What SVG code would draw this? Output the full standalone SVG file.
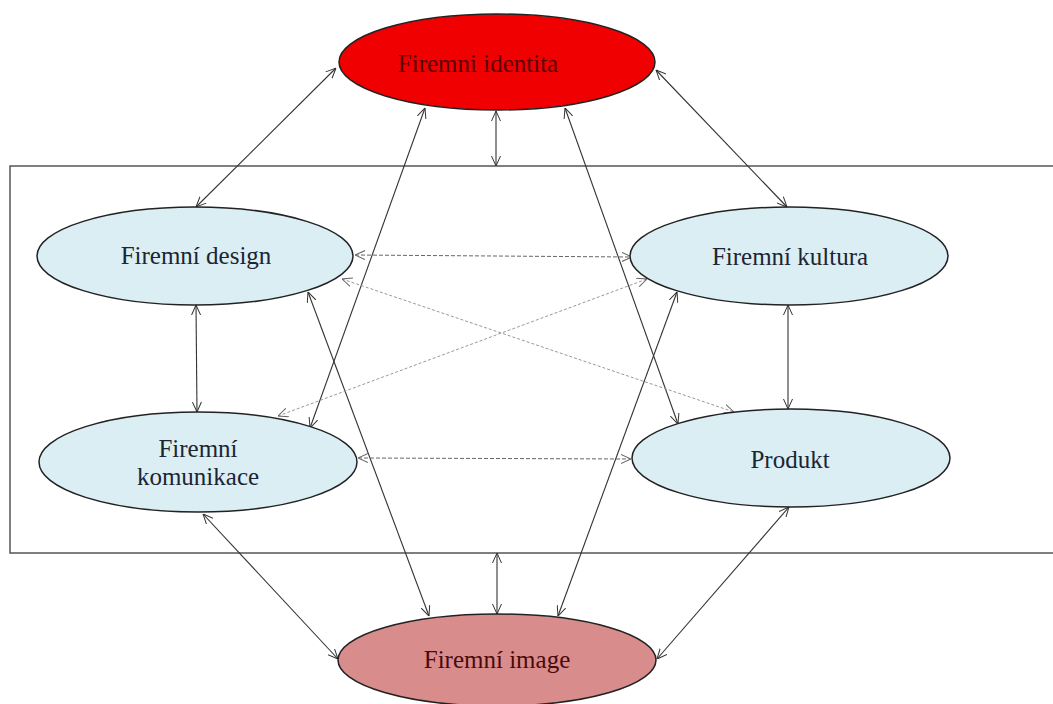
<svg xmlns="http://www.w3.org/2000/svg" width="1053" height="704" viewBox="0 0 1053 704">
<defs>
<marker id="ah" viewBox="0 0 10 10" refX="10" refY="5" markerWidth="10" markerHeight="10" markerUnits="userSpaceOnUse" orient="auto-start-reverse">
<path d="M0,0.5 L10,5 L0,9.5" fill="none" stroke="#333" stroke-width="1"/>
</marker>
<marker id="ahd" viewBox="0 0 10 10" refX="10" refY="5" markerWidth="10" markerHeight="10" markerUnits="userSpaceOnUse" orient="auto-start-reverse">
<path d="M0,0.5 L10,5 L0,9.5" fill="none" stroke="#666" stroke-width="1"/>
</marker>
</defs>
<style>
.node{stroke:#222;stroke-width:1.5}
.blue{fill:#daeef3}
.lbl{font-family:'Liberation Serif','Times New Roman','DejaVu Serif',serif;font-size:25px;text-anchor:middle;fill:#1c2533}
.c{fill:none;stroke:#333;stroke-width:1.1;marker-start:url(#ah);marker-end:url(#ah)}
.d{fill:none;stroke:#666;stroke-width:1;stroke-dasharray:4 2;marker-start:url(#ahd);marker-end:url(#ahd)}
.dl{fill:none;stroke:#999;stroke-width:1;stroke-dasharray:3 2;marker-start:url(#ahd);marker-end:url(#ahd)}
</style>
<rect width="1053" height="704" fill="#fff"/>
<rect id="frame" x="10" y="166" width="1050" height="387" fill="none" stroke="#555" stroke-width="1.5"/>
<g id="connectors">
<line class="c" x1="336" y1="68" x2="196" y2="207"/>
<line class="c" x1="656" y1="70" x2="787" y2="207"/>
<line class="c" x1="496" y1="111" x2="496" y2="166"/>
<line class="c" x1="425" y1="108" x2="310" y2="428"/>
<line class="c" x1="565" y1="108" x2="678" y2="424"/>
<line class="c" x1="196" y1="305" x2="197" y2="412"/>
<line class="c" x1="788" y1="305" x2="788" y2="409"/>
<line class="c" x1="308" y1="292" x2="429" y2="616"/>
<line class="c" x1="677" y1="292" x2="558" y2="616"/>
<line class="c" x1="203" y1="514" x2="338" y2="659"/>
<line class="c" x1="789" y1="507" x2="657" y2="659"/>
<line class="c" x1="497" y1="553" x2="497" y2="614"/>
<line class="d" x1="355" y1="255" x2="632" y2="257"/>
<line class="d" x1="358" y1="458" x2="631" y2="459"/>
<line class="dl" x1="342" y1="279" x2="734" y2="412"/>
<line class="dl" x1="278" y1="416" x2="647" y2="279"/>
</g>
<g id="identita">
<ellipse class="node" cx="497" cy="62" rx="158" ry="48" fill="#f00000"/>
<text class="lbl" x="478" y="72" style="fill:#5a0000">Firemni identita</text>
</g>
<g id="design">
<ellipse class="node blue" cx="195" cy="256" rx="158" ry="49"/>
<text class="lbl" x="196" y="264">Firemní design</text>
</g>
<g id="kultura">
<ellipse class="node blue" cx="789" cy="256" rx="159" ry="49"/>
<text class="lbl" x="790" y="265">Firemní kultura</text>
</g>
<g id="komunikace">
<ellipse class="node blue" cx="198" cy="462" rx="159" ry="50"/>
<text class="lbl" x="198" y="457">Firemní</text>
<text class="lbl" x="198" y="485">komunikace</text>
</g>
<g id="produkt">
<ellipse class="node blue" cx="791" cy="458" rx="159" ry="49"/>
<text class="lbl" x="790" y="468">Produkt</text>
</g>
<g id="image">
<ellipse class="node" cx="497" cy="660" rx="159" ry="46" fill="#d98c8c"/>
<text class="lbl" x="497" y="668" style="fill:#4a0a0a">Firemní image</text>
</g>
</svg>
